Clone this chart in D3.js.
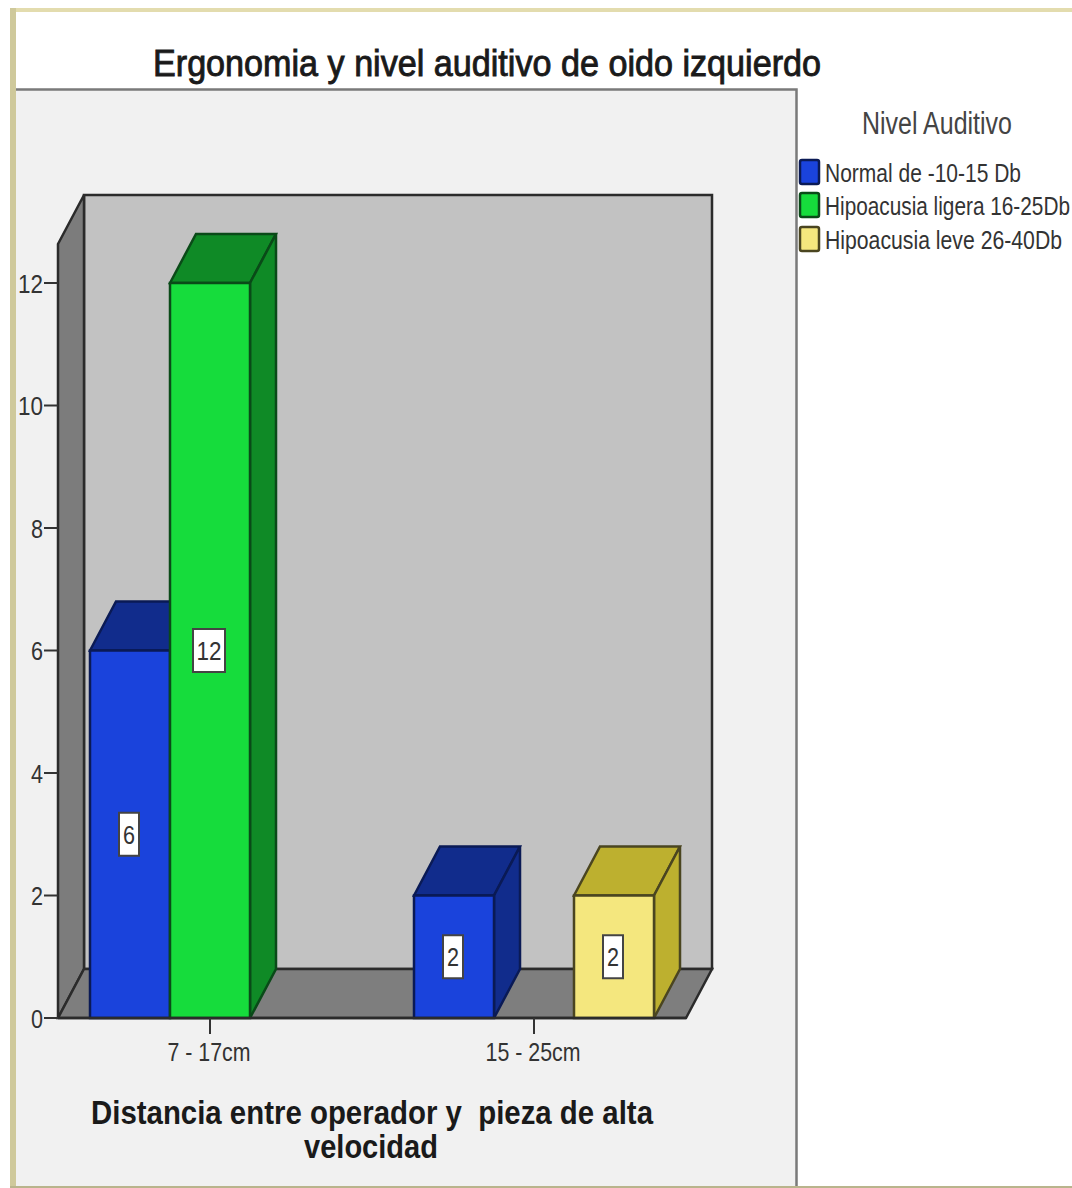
<!DOCTYPE html>
<html>
<head>
<meta charset="utf-8">
<script src="https://cdn.jsdelivr.net/npm/d3@7"></script>
<style>
html,body{margin:0;padding:0;background:#fff}
svg{display:block}
text{font-family:"Liberation Sans",Arial,sans-serif}
.legend text{font-family:"Liberation Sans Narrow","Liberation Sans",Arial,sans-serif}
</style>
</head>
<body>
<svg id="chart" width="1072" height="1188"></svg>
<script>
const categories = ["7 - 17cm", "15 - 25cm"];
const seriesNames = ["Normal de -10-15 Db", "Hipoacusia ligera 16-25Db", "Hipoacusia leve 26-40Db"];
const normalValues = [6, 2];
const ligeraValues = [12, 0];
const leveValues = [0, 2];
const seriesValues = [normalValues, ligeraValues, leveValues];
const yTicks = [0, 2, 4, 6, 8, 10, 12];
const frontColors = ["#1a43dc", "#16dc3c", "#f4e77e"];
const sideColors = ["#112c8c", "#0f8a26", "#bdb02f"];
const edgeColors = ["#0a1a55", "#0a4a18", "#4a4520"];

const svg = d3.select("#chart");

// Oblique projection offset of the 3D box
const depthX = 26, depthY = -49;

const y = d3.scaleLinear().domain([0, 12]).range([1018, 283]);
const x = d3.scaleBand().domain(categories).range([48, 696]);
const slot = d3.scaleBand().domain(seriesNames).range([-120, 120]);

const poly = pts => pts.map(p => p.join(",")).join(" ");

// Window frame
svg.append("rect").attr("x", 10).attr("y", 8).attr("width", 1062).attr("height", 4).attr("fill", "#e3dcae");
svg.append("rect").attr("x", 10).attr("y", 8).attr("width", 6).attr("height", 1180).attr("fill", "#cfc99b");
svg.append("rect").attr("x", 10).attr("y", 1186).attr("width", 1062).attr("height", 2).attr("fill", "#b9b48c");

// Chart panel
svg.append("rect").attr("x", 16).attr("y", 89).attr("width", 780).attr("height", 1097)
  .attr("fill", "#f1f1f1");
svg.append("path").attr("d", "M16,89.5H796.5V1186").attr("fill", "none").attr("stroke", "#7a7a7a").attr("stroke-width", 2.5);

// Title
svg.append("text").attr("x", 153).attr("y", 76).attr("font-size", 36).attr("fill", "#1a1a1a")
  .attr("stroke", "#1a1a1a").attr("stroke-width", 0.9)
  .attr("textLength", 668).attr("lengthAdjust", "spacingAndGlyphs")
  .text("Ergonomia y nivel auditivo de oido izquierdo");

// Box walls
const x0 = 58, x1 = 686, yBase = y(0), yTop = 244;
const wallStroke = "#2b2b2b";
svg.append("polygon").attr("class", "wall")
  .attr("points", poly([[x0 + depthX, yTop + depthY], [x1 + depthX, yTop + depthY], [x1 + depthX, yBase + depthY], [x0 + depthX, yBase + depthY]]))
  .attr("fill", "#c2c2c2").attr("stroke", wallStroke).attr("stroke-width", 2.5);
svg.append("polygon").attr("class", "wall")
  .attr("points", poly([[x0, yTop], [x0 + depthX, yTop + depthY], [x0 + depthX, yBase + depthY], [x0, yBase]]))
  .attr("fill", "#7c7c7c").attr("stroke", wallStroke).attr("stroke-width", 2.5);
svg.append("polygon").attr("class", "wall")
  .attr("points", poly([[x0, yBase], [x0 + depthX, yBase + depthY], [x1 + depthX, yBase + depthY], [x1, yBase]]))
  .attr("fill", "#7e7e7e").attr("stroke", wallStroke).attr("stroke-width", 2.5);

// Value axis
const yAxis = svg.append("g").attr("class", "y-axis");
yAxis.selectAll("line").data(yTicks).join("line")
  .attr("x1", 44).attr("x2", x0).attr("y1", d => y(d)).attr("y2", d => y(d))
  .attr("stroke", "#333").attr("stroke-width", 2);
yAxis.selectAll("text").data(yTicks).join("text")
  .attr("x", 43).attr("y", d => y(d) + 9.5).attr("text-anchor", "end")
  .attr("font-size", 25).attr("fill", "#333")
  .attr("textLength", d => d >= 10 ? 25 : 12).attr("lengthAdjust", "spacingAndGlyphs")
  .text(d => d);

// Flatten series into one row per drawn bar
const bars = [];
seriesNames.forEach((name, s) => categories.forEach((cat, c) => {
  if (seriesValues[s][c] > 0) bars.push({ s, name, cat, value: seriesValues[s][c] });
}));

const barX = d => x(d.cat) + x.bandwidth() / 2 + slot(d.name);
const barW = slot.bandwidth();

const barG = svg.append("g").attr("class", "bars").selectAll("g").data(bars).join("g");
barG.append("polygon")
  .attr("points", d => {
    const l = barX(d), r = l + barW, t = y(d.value);
    return poly([[l, t], [l + depthX, t + depthY], [r + depthX, t + depthY], [r, t]]);
  })
  .attr("fill", d => sideColors[d.s]).attr("stroke", d => edgeColors[d.s]).attr("stroke-width", 2.5);
barG.append("polygon")
  .attr("points", d => {
    const r = barX(d) + barW, t = y(d.value);
    return poly([[r, t], [r + depthX, t + depthY], [r + depthX, yBase + depthY], [r, yBase]]);
  })
  .attr("fill", d => sideColors[d.s]).attr("stroke", d => edgeColors[d.s]).attr("stroke-width", 2.5);
barG.append("rect")
  .attr("x", barX).attr("y", d => y(d.value)).attr("width", barW).attr("height", d => yBase - y(d.value))
  .attr("fill", d => frontColors[d.s]).attr("stroke", d => edgeColors[d.s]).attr("stroke-width", 2.5);

// Value labels in the middle of each bar face
const labelW = d => d.value >= 10 ? 32 : 20;
barG.append("rect")
  .attr("x", d => barX(d) + barW / 2 - labelW(d) / 2 - 1)
  .attr("y", d => y(d.value / 2) - 21.5).attr("width", labelW).attr("height", 43)
  .attr("fill", "#fff").attr("stroke", "#444").attr("stroke-width", 2);
barG.append("text")
  .attr("x", d => barX(d) + barW / 2 - 1).attr("y", d => y(d.value / 2) + 9.5)
  .attr("text-anchor", "middle").attr("font-size", 25).attr("fill", "#333")
  .attr("textLength", d => d.value >= 10 ? 25 : 12).attr("lengthAdjust", "spacingAndGlyphs")
  .text(d => d.value);

// Redraw the baseline over the bar feet
svg.append("line").attr("x1", x0).attr("x2", x1).attr("y1", yBase).attr("y2", yBase)
  .attr("stroke", "#2b2b2b").attr("stroke-width", 2.5);

// Category axis
const xAxis = svg.append("g").attr("class", "x-axis").selectAll("g").data(categories).join("g");
xAxis.append("line")
  .attr("x1", d => x(d) + x.bandwidth() / 2).attr("x2", d => x(d) + x.bandwidth() / 2)
  .attr("y1", yBase).attr("y2", yBase + 16).attr("stroke", "#333").attr("stroke-width", 2);
xAxis.append("text")
  .attr("x", d => x(d) + x.bandwidth() / 2 - 1).attr("y", 1061).attr("text-anchor", "middle")
  .attr("font-size", 25).attr("fill", "#333")
  .attr("textLength", (d, i) => [83, 95][i]).attr("lengthAdjust", "spacingAndGlyphs")
  .text(d => d);

// Category axis title
svg.append("text").attr("x", 91).attr("y", 1124).attr("font-size", 33).attr("font-weight", "bold").attr("fill", "#1a1a1a")
  .attr("textLength", 562).attr("lengthAdjust", "spacingAndGlyphs")
  .text("Distancia entre operador y  pieza de alta").attr("xml:space", "preserve");
svg.append("text").attr("x", 304).attr("y", 1158).attr("font-size", 33).attr("font-weight", "bold").attr("fill", "#1a1a1a")
  .attr("textLength", 134).attr("lengthAdjust", "spacingAndGlyphs")
  .text("velocidad");

// Legend
svg.append("text").attr("class", "legend-title").attr("x", 862).attr("y", 134).attr("font-size", 31).attr("fill", "#444")
  .attr("textLength", 150).attr("lengthAdjust", "spacingAndGlyphs").text("Nivel Auditivo");
const legendWidths = [196, 245, 237];
const legendRow = d3.scaleOrdinal().domain(seriesNames).range([172, 205, 239]);
const legend = svg.append("g").attr("class", "legend").selectAll("g").data(seriesNames).join("g");
legend.append("rect")
  .attr("x", 800).attr("y", d => legendRow(d) - 12).attr("width", 19).attr("height", 24).attr("rx", 2)
  .attr("fill", (d, i) => frontColors[i]).attr("stroke", (d, i) => edgeColors[i]).attr("stroke-width", 2.5);
// Tall, condensed legend lettering: a small font stretched vertically
legend.append("text")
  .attr("transform", d => `translate(825,${legendRow(d) + 10}) scale(1,1.25)`)
  .attr("font-size", 20).attr("fill", "#333")
  .attr("textLength", (d, i) => legendWidths[i]).attr("lengthAdjust", "spacingAndGlyphs")
  .text(d => d);
</script>
</body>
</html>
